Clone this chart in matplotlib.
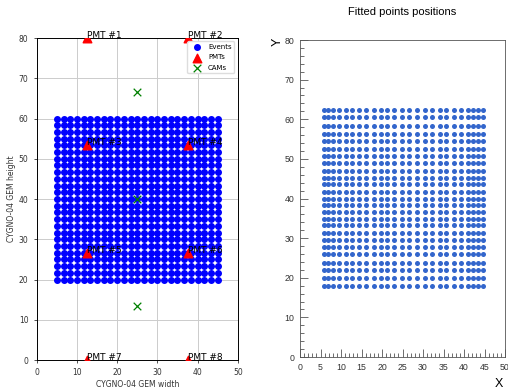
import numpy as np
import matplotlib.pyplot as plt

# left panel: simulated event grid, PMTs and cameras
event_x = [5.0, 6.67, 8.33, 10.0, 11.67, 13.33, 15.0, 16.67, 18.33, 20.0, 21.67, 23.33, 25.0,
           26.67, 28.33, 30.0, 31.67, 33.33, 35.0, 36.67, 38.33, 40.0, 41.67, 43.33, 45.0]
event_y = [20.0, 21.67, 23.33, 25.0, 26.67, 28.33, 30.0, 31.67, 33.33, 35.0, 36.67, 38.33, 40.0,
           41.67, 43.33, 45.0, 46.67, 48.33, 50.0, 51.67, 53.33, 55.0, 56.67, 58.33, 60.0]
pmt_x = [12.5, 37.5, 12.5, 37.5, 12.5, 37.5, 12.5, 37.5]
pmt_y = [80.0, 80.0, 53.33, 53.33, 26.67, 26.67, 0.0, 0.0]
pmt_names = ['PMT #1', 'PMT #2', 'PMT #3', 'PMT #4', 'PMT #5', 'PMT #6', 'PMT #7', 'PMT #8']
cam_x = [25.0, 25.0, 25.0]
cam_y = [66.67, 40.0, 13.33]

# right panel: fitted positions (column / row centres)
fit_x = [5.8, 6.8, 8.0, 9.4, 11.1, 12.7, 14.4, 16.2, 18.0, 19.7, 21.3, 23.0, 24.9,
         26.7, 28.5, 30.4, 32.3, 34.1, 35.7, 37.5, 39.2, 41.0, 42.2, 43.5, 44.6]
fit_y = [17.8, 19.9, 22.0, 23.8, 25.9, 27.7, 29.5, 31.4, 33.3, 34.8, 36.5, 38.4, 40.0,
         41.7, 43.6, 45.3, 47.0, 48.9, 50.8, 52.6, 54.6, 56.3, 58.3, 60.5, 62.3]

fig = plt.figure(figsize=(5.08, 3.90), dpi=100)

ax1 = fig.add_axes([0.0722, 0.0769, 0.396, 0.8256])
ex, ey = np.meshgrid(event_x, event_y)
ax1.scatter(ex.ravel(), ey.ravel(), s=16, color='blue', label='Events', zorder=2)
ax1.scatter(pmt_x, pmt_y, s=38, marker='^', color='red', label='PMTs', zorder=3)
ax1.scatter(cam_x, cam_y, s=30, marker='x', color='green', linewidths=0.9,
            label='CAMs', zorder=3)
for x, y, name in zip(pmt_x, pmt_y, pmt_names):
    ax1.text(x, y, name, fontsize=6.5, color='black', zorder=4)
ax1.set_xlim(0, 50)
ax1.set_ylim(0, 80)
ax1.set_xticks(range(0, 51, 10))
ax1.set_yticks(range(0, 81, 10))
ax1.grid(True, color='#cccccc', linewidth=0.7, zorder=0)
ax1.set_axisbelow(True)
ax1.tick_params(labelsize=5.5, length=2.5, width=0.6, colors='#333333')
ax1.set_xlabel('CYGNO-04 GEM width', fontsize=5.5, color='#333333', labelpad=2)
ax1.set_ylabel('CYGNO-04 GEM height', fontsize=5.5, color='#333333', labelpad=2)
for sp in ax1.spines.values():
    sp.set_linewidth(0.7)
ax1.legend(loc='upper right', fontsize=5, markerscale=1.0, handletextpad=0.6,
           borderpad=0.4, labelspacing=0.6, framealpha=1, edgecolor='#dddddd')

ax2 = fig.add_axes([0.5906, 0.0846, 0.4035, 0.8128])
fx, fy = np.meshgrid(fit_x, fit_y)
ax2.scatter(fx.ravel(), fy.ravel(), s=13, color='#3366cc', linewidths=0)
ax2.set_xlim(0, 50)
ax2.set_ylim(0, 80)
ax2.set_xticks(range(0, 51, 5))
ax2.set_xticks(range(0, 51, 1), minor=True)
ax2.set_yticks(range(0, 81, 10))
ax2.set_yticks(range(0, 81, 2), minor=True)
ax2.tick_params(which='both', direction='in', top=False, right=False,
                labelsize=6.3, width=0.5, colors='#333333', pad=4)
ax2.tick_params(which='major', length=6)
ax2.tick_params(which='minor', length=3)
for lab in ax2.get_xticklabels() + ax2.get_yticklabels():
    lab.set_family('Liberation Sans')
for sp in ax2.spines.values():
    sp.set_linewidth(0.6)
    sp.set_color('#555555')
ax2.set_title('Fitted points positions', fontsize=8, family='Liberation Sans', pad=18)
fig.text(0.546, 0.893, 'Y', rotation=90, fontsize=9, family='Liberation Sans',
         ha='center', va='center')
fig.text(0.983, 0.0, 'X', fontsize=9, family='Liberation Sans',
         ha='center', va='bottom')

fig.savefig('out.png', dpi=100)
